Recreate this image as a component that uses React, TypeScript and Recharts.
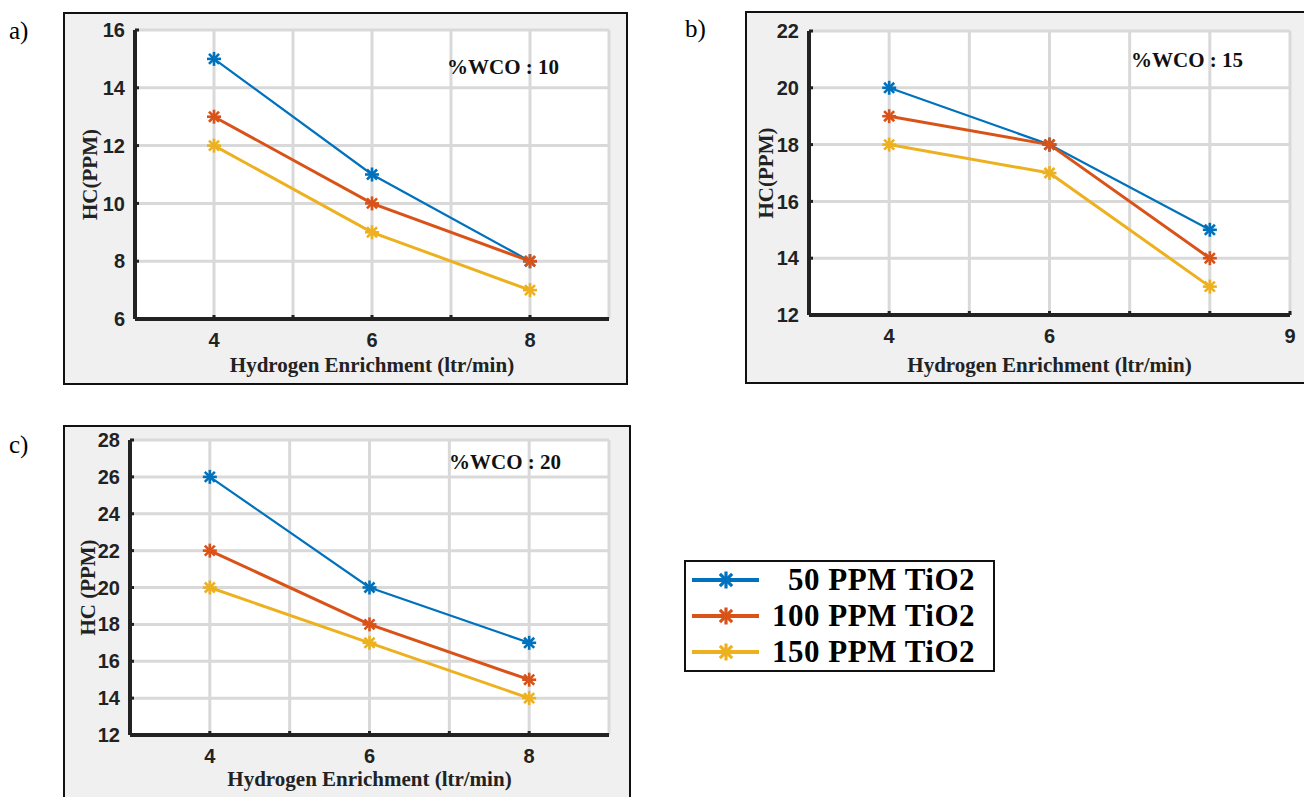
import React from 'react';
import { LineChart, Line, XAxis, YAxis, CartesianGrid, Legend } from 'recharts';

const hydrogenFlow = [4, 6, 8];
const seriesKeys = ['ti50', 'ti100', 'ti150'];
const seriesNames = ['50 PPM TiO2', '100 PPM TiO2', '150 PPM TiO2'];
const seriesColors = ['#0072BD', '#D95319', '#EDB120'];
const seriesWidths = [2.2, 3, 3];

// %WCO : 10
const wco10Ti50 = [15, 11, 8];
const wco10Ti100 = [13, 10, 8];
const wco10Ti150 = [12, 9, 7];
// %WCO : 15
const wco15Ti50 = [20, 18, 15];
const wco15Ti100 = [19, 18, 14];
const wco15Ti150 = [18, 17, 13];
// %WCO : 20
const wco20Ti50 = [26, 20, 17];
const wco20Ti100 = [22, 18, 15];
const wco20Ti150 = [20, 17, 14];

const xTicksAC = [4, 5, 6, 7, 8];
const xTicksB = [4, 5, 6, 7, 8, 9];
const xLabelsAC = [4, 6, 8];
const xLabelsB = [4, 6, 9];
const yTicksA = [6, 8, 10, 12, 14, 16];
const yTicksB = [12, 14, 16, 18, 20, 22];
const yTicksC = [12, 14, 16, 18, 20, 22, 24, 26, 28];

const serif = '"Liberation Serif", "Times New Roman", serif';
const sans = '"Liberation Sans", Arial, sans-serif';
const ink = '#222222';
const axisStyle = { stroke: ink, strokeWidth: 4 };
const tickStyle = { stroke: ink, strokeWidth: 3 };

const buildRows = (a: number[], b: number[], c: number[]) =>
  hydrogenFlow.map((h, i) => ({ h, ti50: a[i], ti100: b[i], ti150: c[i] }));

const Asterisk = ({ cx, cy, color, r, sw }: any) => {
  const d = r * 0.72;
  return (
    <g stroke={color} strokeWidth={sw}>
      <line x1={cx - r} y1={cy} x2={cx + r} y2={cy} />
      <line x1={cx} y1={cy - r} x2={cx} y2={cy + r} />
      <line x1={cx - d} y1={cy - d} x2={cx + d} y2={cy + d} />
      <line x1={cx - d} y1={cy + d} x2={cx + d} y2={cy - d} />
    </g>
  );
};

const emptyTick = () => <g />;

const makeXTick = (shown: number[]) => (props: any) => {
  const { x, y, payload } = props;
  if (!shown.includes(payload.value)) return <g />;
  return (
    <text x={x} y={y} dy="0.71em" textAnchor="middle" fill={ink} fontSize={20} fontWeight={700} fontFamily={sans}>
      {payload.value}
    </text>
  );
};

const renderLegend = (props: any) => {
  const items = (props.payload || [])
    .slice()
    .sort((a: any, b: any) => seriesNames.indexOf(a.value) - seriesNames.indexOf(b.value));
  return (
    <div style={{ border: '2px solid #111', background: '#fff', width: 307 }}>
      {items.map((entry: any, i: number) => (
        <div key={i} style={{ display: 'flex', alignItems: 'center', height: 36 }}>
          <svg width={80} height={36} style={{ flex: 'none' }}>
            <line x1={6} y1={18} x2={73} y2={18} stroke={entry.color} strokeWidth={4} />
            <Asterisk cx={40} cy={18} color={entry.color} r={8.5} sw={3.2} />
          </svg>
          <span
            style={{
              flex: 1,
              textAlign: 'right',
              paddingRight: 18,
              fontFamily: serif,
              fontWeight: 700,
              fontSize: 31,
              letterSpacing: 0.5,
              color: '#000',
              whiteSpace: 'nowrap',
            }}
          >
            {entry.value}
          </span>
        </div>
      ))}
    </div>
  );
};

const Panel = ({
  left, top, width, height, plotLeft, plotTop, plotRight, plotBottom,
  rows, yTicks, xTicks, xLabels, yLabel, yLabelOffset, xLabelOffset, showLegend,
}: any) => {
  const yAxisWidth = plotLeft - left;
  const marginRight = left + width - plotRight;
  const marginTop = plotTop - top;
  const xAxisHeight = top + height - plotBottom;
  const yDomain = [yTicks[0], yTicks[yTicks.length - 1]];
  return (
    <div style={{ position: 'absolute', left, top }}>
      <LineChart width={width} height={height} data={rows} margin={{ top: marginTop, right: marginRight, bottom: 0, left: 0 }}>
        <CartesianGrid fill="#ffffff" stroke="#d9d9d9" strokeWidth={3} />
        <XAxis
          dataKey="h"
          type="number"
          domain={[3, 9]}
          ticks={xTicks}
          interval={0}
          allowDataOverflow
          height={xAxisHeight}
          tickSize={-4}
          tickMargin={18}
          axisLine={axisStyle}
          tickLine={tickStyle}
          tick={makeXTick(xLabels)}
          label={{
            value: 'Hydrogen Enrichment (ltr/min)',
            position: 'insideBottom',
            offset: xLabelOffset,
            fill: ink,
            fontSize: 21,
            fontWeight: 700,
            fontFamily: serif,
          }}
        />
        <XAxis
          xAxisId="top"
          orientation="top"
          type="number"
          domain={[3, 9]}
          ticks={xTicks}
          interval={0}
          allowDataOverflow
          height={0}
          tickSize={-4}
          axisLine={axisStyle}
          tickLine={tickStyle}
          tick={emptyTick}
        />
        <YAxis
          type="number"
          domain={yDomain}
          ticks={yTicks}
          interval={0}
          allowDataOverflow
          width={yAxisWidth}
          tickSize={-4}
          tickMargin={14}
          axisLine={axisStyle}
          tickLine={tickStyle}
          tick={{ fill: ink, fontSize: 20, fontWeight: 700, fontFamily: sans }}
          label={{
            value: yLabel,
            angle: -90,
            position: 'insideLeft',
            offset: yLabelOffset,
            fill: ink,
            fontSize: 21,
            fontWeight: 700,
            fontFamily: serif,
            style: { textAnchor: 'middle' },
          }}
        />
        <YAxis
          yAxisId="right"
          orientation="right"
          type="number"
          domain={yDomain}
          ticks={yTicks}
          interval={0}
          allowDataOverflow
          width={0}
          tickSize={-4}
          axisLine={axisStyle}
          tickLine={tickStyle}
          tick={emptyTick}
        />
        {seriesKeys.map((key, i) => (
          <Line
            key={key}
            dataKey={key}
            name={seriesNames[i]}
            stroke={seriesColors[i]}
            strokeWidth={seriesWidths[i]}
            dot={(p: any) => (
              <Asterisk key={`${key}-${p.index}`} cx={p.cx} cy={p.cy} color={seriesColors[i]} r={7} sw={2.6} />
            )}
            activeDot={false}
            isAnimationActive={false}
          />
        ))}
        {showLegend && (
          <Legend
            layout="vertical"
            align="center"
            verticalAlign="middle"
            wrapperStyle={{ left: 621, top: 135, width: 311, height: 112 }}
            content={renderLegend}
          />
        )}
      </LineChart>
    </div>
  );
};

const boxStyle = (left: number, top: number, width: number, height: number): React.CSSProperties => ({
  position: 'absolute',
  left,
  top,
  width,
  height,
  background: '#f0f0f0',
  border: '2px solid #111',
  boxSizing: 'border-box',
});

const noteStyle = (left: number, top: number): React.CSSProperties => ({
  position: 'absolute',
  left,
  top,
  fontFamily: serif,
  fontWeight: 700,
  fontSize: 21,
  lineHeight: '21px',
  color: '#111',
  whiteSpace: 'nowrap',
});

const letterStyle = (left: number, top: number): React.CSSProperties => ({
  position: 'absolute',
  left,
  top,
  fontFamily: serif,
  fontSize: 25,
  lineHeight: '25px',
  color: '#000',
});

export default function App() {
  return (
    <div style={{ position: 'absolute', left: 0, top: 0, width: 1304, height: 797, overflow: 'hidden', background: '#fff' }}>
      <div style={boxStyle(63, 12, 565, 373)} />
      <div style={boxStyle(745, 11, 570, 373)} />
      <div style={boxStyle(63, 425, 568, 380)} />

      <Panel
        left={63} top={12} width={564} height={372}
        plotLeft={135} plotTop={30} plotRight={609} plotBottom={319}
        rows={buildRows(wco10Ti50, wco10Ti100, wco10Ti150)}
        yTicks={yTicksA} xTicks={xTicksAC} xLabels={xLabelsAC}
        yLabel="HC(PPM)" yLabelOffset={27} xLabelOffset={12}
      />
      <Panel
        left={745} top={11} width={565} height={372}
        plotLeft={809} plotTop={31} plotRight={1290} plotBottom={315}
        rows={buildRows(wco15Ti50, wco15Ti100, wco15Ti150)}
        yTicks={yTicksB} xTicks={xTicksB} xLabels={xLabelsB}
        yLabel="HC(PPM)" yLabelOffset={21} xLabelOffset={11}
      />
      <Panel
        left={63} top={425} width={567} height={372}
        plotLeft={130} plotTop={440} plotRight={609} plotBottom={735}
        rows={buildRows(wco20Ti50, wco20Ti100, wco20Ti150)}
        yTicks={yTicksC} xTicks={xTicksAC} xLabels={xLabelsAC}
        yLabel="HC (PPM)" yLabelOffset={25} xLabelOffset={11}
        showLegend
      />

      <div style={noteStyle(447, 57)}>%WCO : 10</div>
      <div style={noteStyle(1131, 50)}>%WCO : 15</div>
      <div style={noteStyle(449, 452)}>%WCO : 20</div>

      <div style={letterStyle(9, 18)}>a)</div>
      <div style={letterStyle(685, 16)}>b)</div>
      <div style={letterStyle(9, 432)}>c)</div>
    </div>
  );
}
